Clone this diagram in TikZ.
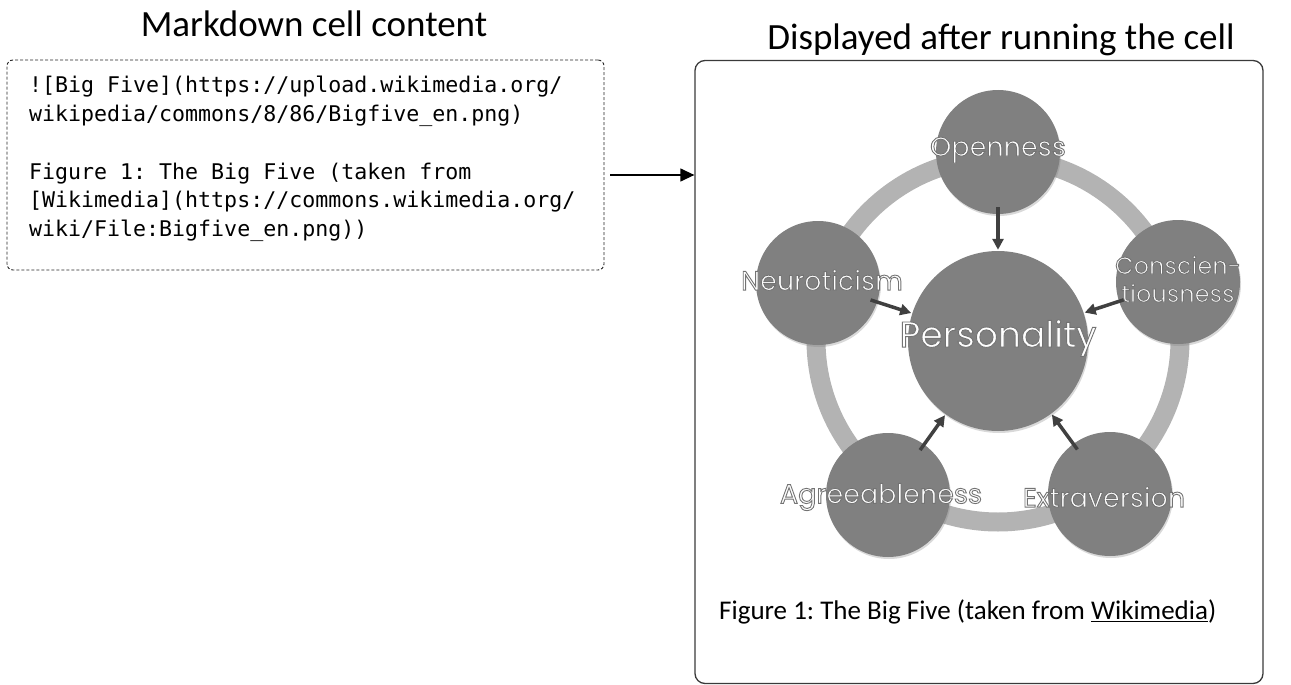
\documentclass[tikz,border=0pt]{standalone}
\usepackage{fontspec}
\setmainfont{Carlito}
\newfontfamily\monof{DejaVu Sans Mono}
\newfontfamily\gothf{Poppins}
\usetikzlibrary{arrows.meta,shadows}
\definecolor{traitgray}{HTML}{808080}
\definecolor{ringgray}{HTML}{B3B3B3}
\definecolor{arrowgray}{HTML}{404040}
\definecolor{boxgray}{HTML}{3A3A3A}
\newcommand\olt[1]{\special{pdf:literal direct 2 Tr 0.9 w 0.45 G}#1\special{pdf:literal direct 0 Tr}}
\frenchspacing
\begin{document}
\begin{tikzpicture}[x=1pt,y=-1pt,
  title/.style={font=\fontsize{37}{42}\selectfont, text=black, inner sep=0},
  mdbox/.style={draw=black!85, dash pattern=on 3pt off 2pt, line width=0.9pt, rounded corners=6pt, minimum width=597pt, minimum height=210pt, inner sep=0},
  dispbox/.style={draw=boxgray, line width=1.3pt, rounded corners=10pt, minimum width=568pt, minimum height=623pt, inner sep=0},
  code/.style={font=\monof\fontsize{21.6}{28.8}\selectfont, align=left, inner sep=0, anchor=north west},
  trait/.style={circle, fill=traitgray, minimum size=124pt, inner sep=0, drop shadow={opacity=0.3, shadow xshift=1pt, shadow yshift=-2pt}},
  core/.style={trait, minimum size=180pt},
  lbl/.style={font=\gothf\fontsize{27}{28}\selectfont, text=white, inner sep=0, align=center},
  corelbl/.style={lbl, font=\gothf\fontsize{36}{40}\selectfont},
  influence/.style={draw=arrowgray, line width=3.5pt, -{Triangle[length=11pt,width=11pt]}, shorten <=-7pt, shorten >=1pt},
  ring/.style={draw=ringgray, line width=19pt},
  link/.style={draw=black, line width=1.3pt, -{Triangle[length=14pt,width=13pt]}},
  caption/.style={font=\fontsize{27}{30}\selectfont, text=black, inner sep=0, anchor=west}
]
\useasboundingbox (0,0) rectangle (1291,685);

% titles
\node[title] (t1) at (314,24) {Markdown cell content};
\node[title] (t2) at (1001,40) {Displayed after running the cell};

% left: markdown source
\node[mdbox] (md) at (305.5,165) {};
\node[code] (src) at (29,76) {![Big Five](https://upload.wikimedia.org/\\wikipedia/commons/8/86/Bigfive\_en.png)\\[28.8pt]Figure 1: The Big Five (taken from\\{}[Wikimedia](https://commons.wikimedia.org/\\wiki/File:Bigfive\_en.png))};

% right: rendered cell
\node[dispbox] (disp) at (979,372) {};

% link arrow
\coordinate (a1) at (610,175);
\draw[link] (a1) -- (disp.west |- a1);

% ring
\coordinate (ctr) at (998,340);
\draw[ring] (ctr) circle[radius=182pt];

% circles
\node[trait] (open) at (998,152) {};
\node[trait] (neuro) at (818,283) {};
\node[trait] (consc) at (1178,282) {};
\node[trait] (agree) at (888,495) {};
\node[trait] (extra) at (1110,494) {};
\node[core] (pers) at (998,341) {};

% influences
\draw[influence] (open) -- (pers);
\draw[influence] (neuro) -- (pers);
\draw[influence] (consc) -- (pers);
\draw[influence] (agree) -- (pers);
\draw[influence] (extra) -- (pers);

% labels
\node[lbl] (lopen) at (998,150) {\olt{Openness}};
\node[lbl] (lneuro) at (822,280) {\olt{Neuroticism}};
\node[lbl, font=\gothf\fontsize{24}{28}\selectfont] (lconsc) at (1178,279) {\olt{Conscien-}\\\olt{tiousness}};
\node[lbl] (lagree) at (881,497) {\olt{Agreeableness}};
\node[lbl] (lextra) at (1104,497) {\olt{Extraversion}};
\node[corelbl] (lpers) at (998,338) {\olt{Personality}};

% caption
\node[caption] (cap) at (719,612) {Figure 1: The Big Five (taken from \underline{Wikimedia})};
\end{tikzpicture}
\end{document}
